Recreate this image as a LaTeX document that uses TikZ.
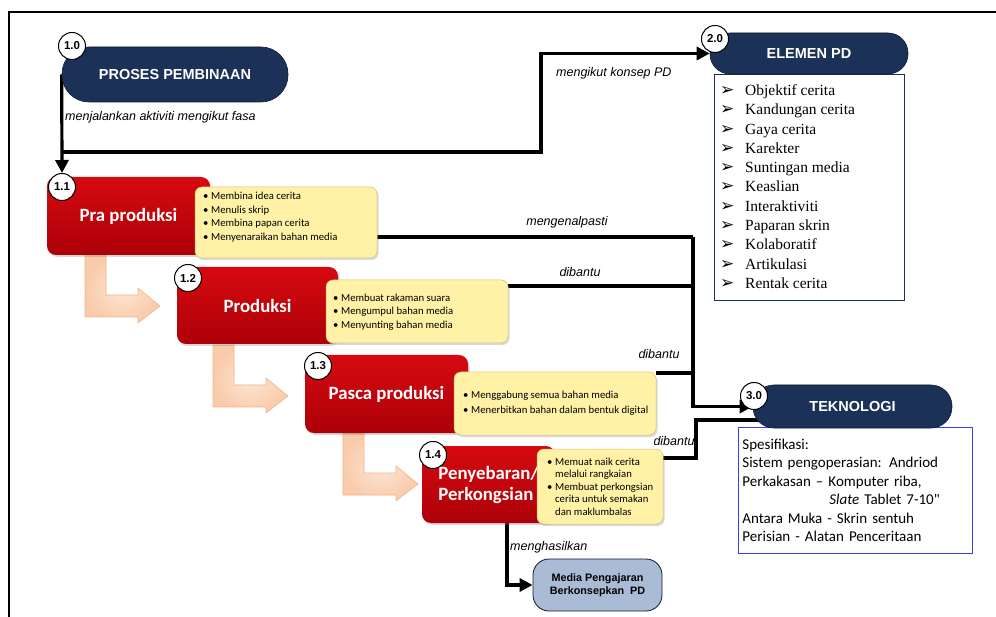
\documentclass[tikz,border=0pt]{standalone}
\usepackage{fontspec}
\setmainfont{Liberation Serif}
\newfontfamily\arial{Liberation Sans}
\newfontfamily\calibri{Carlito}
\newfontfamily\dejavu{DejaVu Sans}
\usepackage{tikz}
\usetikzlibrary{arrows.meta,backgrounds,shadows}
\definecolor{navy}{HTML}{1B3158}
\definecolor{navyline}{HTML}{0E1A30}
\definecolor{redtop}{HTML}{D60A10}
\definecolor{redbot}{HTML}{AC0008}
\definecolor{notefill}{HTML}{FFF1A6}
\definecolor{noteline}{HTML}{D6C078}
\definecolor{peach}{HTML}{F9CBAA}
\definecolor{peachin}{HTML}{FDE6D6}
\definecolor{peachline}{HTML}{EFB48C}
\definecolor{mediafill}{HTML}{A9BBD5}
\definecolor{specblue}{HTML}{3B3BEF}
\newcommand{\bul}{\makebox[8pt][l]{\textbullet}}
\newcommand{\ind}{\hspace*{8pt}}

\begin{document}
\begin{tikzpicture}[x=1pt,y=-1pt,
  pill/.style={fill=navy,draw=navyline,line width=0.6pt,text=white,
    font=\arial\bfseries\fontsize{14.5}{16}\selectfont,inner sep=0pt},
  num/.style={circle,draw,fill=white,line width=1pt,inner sep=0pt,minimum size=27pt,
    font=\arial\bfseries\fontsize{11.5}{13}\selectfont},
  stage/.style={rounded corners=9pt,top color=redtop,bottom color=redbot,text=white,
    font=\calibri\bfseries\fontsize{18.8}{21}\selectfont,inner sep=0pt,
    drop shadow={opacity=0.3,shadow xshift=1.5pt,shadow yshift=-2pt}},
  note/.style={rounded corners=7pt,fill=notefill,draw=noteline,line width=0.5pt,inner sep=0pt,
    drop shadow={opacity=0.3,shadow xshift=1.5pt,shadow yshift=-2pt}},
  notetext/.style={anchor=base west,inner sep=0pt,align=left,
    font=\calibri\fontsize{10.7}{13.7}\selectfont},
  flow/.style={line width=3.2pt,-{Triangle[length=13pt,width=13pt]}},
  link/.style={line width=3.2pt},
  lbl/.style={font=\arial\itshape\fontsize{12.5}{14}\selectfont,inner sep=0pt}]
\useasboundingbox (0,0) rectangle (996,617);
\draw[line width=1.6pt] (996,12) -- (9,12) -- (9,617);

% bent arrows between the phases
\foreach \bx/\by in {85/255,213/345,343/433}
  \draw[inner color=peachin,outer color=peach,draw=peachline,line width=0.6pt] (\bx,\by) -- ++(21,0) -- ++(0,40)
    -- ++(32,0) -- ++(0,-7) -- ++(22,18) -- ++(-22,17) -- ++(0,-6) -- ++(-53,0) -- cycle;

% 1.0
\node[pill,rounded corners=27pt,minimum width=226pt,minimum height=55pt] (pembinaan) at (175,74.5) {PROSES PEMBINAAN};
\node[num] (c10) at (72,46) {1.0};

% 2.0
\node[draw=navy,line width=0.6pt,minimum width=190pt,minimum height=226pt,inner sep=0pt] (elbox) at (809,187) {};
\node[pill,rounded corners=20pt,minimum width=198pt,minimum height=41pt] (elemen) at (809,53.5) {ELEMEN PD};
\node[num] (c20) at (715,39) {2.0};
\foreach \ciri [count=\k] in {Objektif cerita,Kandungan cerita,Gaya cerita,Karekter,Suntingan media,Keaslian,Interaktiviti,Paparan skrin,Kolaboratif,Artikulasi,Rentak cerita}
  \node[anchor=base west,inner sep=0pt,font=\fontsize{15.5}{17}\selectfont] (el\k) at (720,{95.5+19.3*(\k-1)})
    {\makebox[25pt][l]{\dejavu\fontsize{17}{18}\selectfont ➢}\ciri};

% 1.1 - 1.4
\node[stage,minimum width=163pt,minimum height=78pt] (s11) at (128.5,216) {Pra produksi};
\node[note,minimum width=182pt,minimum height=71pt] (n11) at (286,222.5) {};
\node[notetext] (t11) at (203,240.5) {\bul Membina idea cerita\\ \bul Menulis skrip\\ \bul Membina papan cerita\\ \bul Menyenaraikan bahan media};
\node[num] (c11) at (62,187) {1.1};

\node[stage,minimum width=161pt,minimum height=77pt] (s12) at (257.5,305.5) {Produksi};
\node[note,minimum width=182pt,minimum height=63pt] (n12) at (417,311.5) {};
\node[notetext] (t12) at (333,328.5) {\bul Membuat rakaman suara\\ \bul Mengumpul bahan media\\ \bul Menyunting bahan media};
\node[num] (c12) at (188,278) {1.2};

\node[stage,minimum width=163pt,minimum height=78pt] (s13) at (386.5,394) {Pasca produksi};
\node[note,minimum width=202pt,minimum height=63pt] (n13) at (555,403.5) {};
\node[notetext,font=\calibri\fontsize{10.7}{15}\selectfont] (t13) at (463,413.5) {\bul Menggabung semua bahan media\\ \bul Menerbitkan bahan dalam bentuk digital};
\node[num] (c13) at (318,366) {1.3};

\node[stage,minimum width=133pt,minimum height=77pt,align=left] (s14) at (488.5,484.5) {Penyebaran/\\Perkongsian};
\node[note,minimum width=126pt,minimum height=75pt] (n14) at (600,486.5) {};
\node[notetext,font=\calibri\fontsize{10.7}{12.6}\selectfont] (t14) at (547,515.5) {\bul Memuat naik cerita\\ \ind melalui rangkaian\\ \bul Membuat perkongsian\\ \ind cerita untuk semakan\\ \ind dan maklumbalas};
\node[num] (c14) at (433,455) {1.4};

% 3.0
\node[draw=specblue,line width=0.8pt,anchor=north west,minimum height=126pt,text width=226pt,align=left,inner sep=4pt,
  font=\calibri\fontsize{15}{18.5}\selectfont] (spec) at (738,427)
  {Spesifikasi:\\ Sistem pengoperasian: Andriod\\ Perkakasan – Komputer riba,\\ \hspace*{87pt}\textit{Slate} Tablet 7-10"\\ Antara Muka - Skrin sentuh\\ Perisian - Alatan Penceritaan};
\node[pill,rounded corners=21pt,minimum width=199pt,minimum height=43pt] (teknologi) at (852.5,406.5) {TEKNOLOGI};
\node[num] (c30) at (754,396) {3.0};

% output
\node[fill=mediafill,draw=navyline,line width=0.8pt,rounded corners=16pt,minimum width=129pt,minimum height=52pt,
  align=center,inner sep=0pt,font=\arial\bfseries\fontsize{10.8}{13}\selectfont] (media) at (597.5,585) {Media Pengajaran\\Berkonsepkan\ \ PD};

% labels
\node[lbl,anchor=west] (l1) at (65,117) {menjalankan aktiviti mengikut fasa};
\node[lbl,anchor=west] (l2) at (556,73) {mengikut konsep PD};
\node[lbl] (l3) at (567,222) {mengenalpasti};
\node[lbl] (l4) at (580,272) {dibantu};
\node[lbl] (l5) at (659,354) {dibantu};
\node[lbl] (l6) at (674,441) {dibantu};
\node[lbl,anchor=west] (l7) at (510,547) {menghasilkan};

% connectors
\coordinate (split) at (62,152);
\coordinate (knee) at (541,53.5);
\coordinate (j1) at (693,237);
\coordinate (j2) at (693,286);
\coordinate (j3) at (693,373);
\coordinate (j4) at (696,458);
\coordinate (j5) at (696,420);
\coordinate (out) at (507,585);
\begin{pgfonlayer}{background}
\draw[flow] (pembinaan.west) -- (c11.north);
\draw[flow] (split) -| (knee) -- (elemen.west);
\draw[link] (n11.east |- j1) -- (j1);
\draw[link] (n12.east |- j2) -- (j2);
\draw[link] (n13.east |- j3) -- (j3);
\draw[flow] (j1) |- (teknologi.west);
\draw[link] (n14.east |- j4) -- (j4) -- (j5) -- (teknologi.center |- j5);
\draw[flow] (s14.south -| out) -- (out) -- (media.west);
\end{pgfonlayer}
\end{tikzpicture}
\end{document}
